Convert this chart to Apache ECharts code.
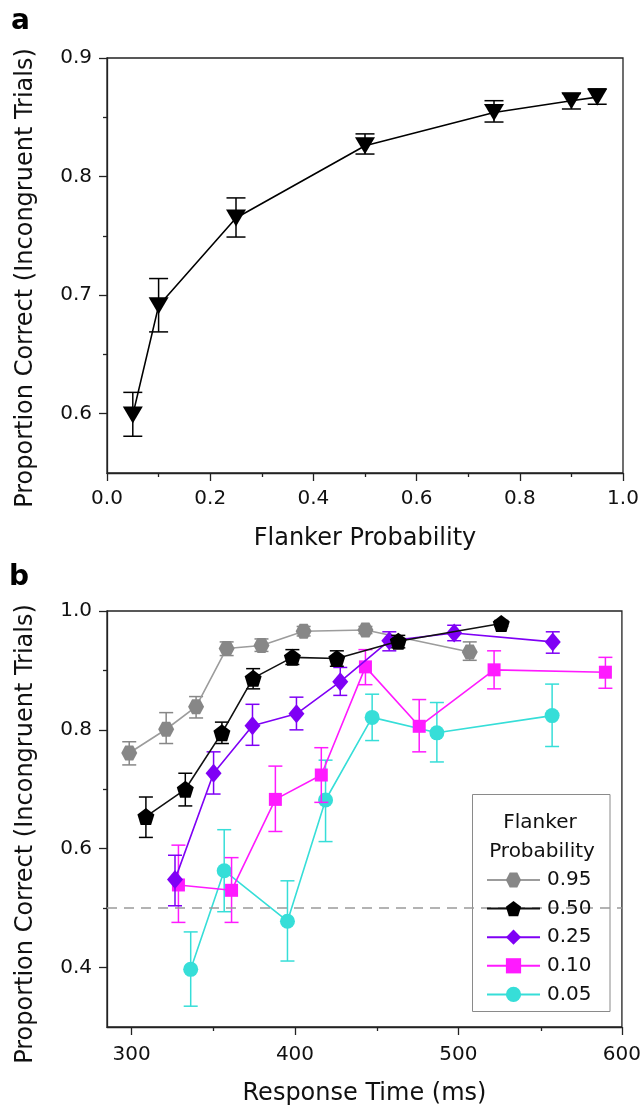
<!DOCTYPE html>
<html>
<head>
<meta charset="utf-8">
<script src="https://cdn.jsdelivr.net/npm/echarts@6/dist/echarts.min.js"></script>
<style>
  html, body { margin: 0; padding: 0; background: #fff; }
  #chart { width: 644px; height: 1108px; }
</style>
</head>
<body>
<div id="chart"></div>
<script>
// ---------- Panel a: accuracy vs. flanker probability ----------
const flankerProb = [0.05, 0.10, 0.25, 0.50, 0.75, 0.90, 0.95];
const accA        = [0.599, 0.691, 0.765, 0.826, 0.854, 0.864, 0.867];
const accALo      = [0.581, 0.669, 0.749, 0.819, 0.846, 0.857, 0.861];
const accAHi      = [0.618, 0.714, 0.782, 0.836, 0.864, 0.870, 0.874];
const yTicksA     = [0.6, 0.7, 0.8, 0.9];
const yMinorA     = [0.65, 0.75, 0.85];

// ---------- Panel b: accuracy vs. response time, per flanker probability ----------
const rt95  = [298.6, 321.2, 339.5, 358.2, 379.5, 405.3, 443.1, 506.9];
const acc95 = [0.761, 0.801, 0.839, 0.937, 0.942, 0.966, 0.968, 0.931];
const lo95  = [0.741, 0.777, 0.820, 0.925, 0.932, 0.958, 0.962, 0.917];
const hi95  = [0.780, 0.829, 0.856, 0.948, 0.953, 0.974, 0.974, 0.948];

const rt50  = [308.8, 332.9, 355.3, 374.4, 398.4, 425.6, 463.2, 526.2];
const acc50 = [0.654, 0.700, 0.795, 0.887, 0.922, 0.920, 0.949, 0.979];
const lo50  = [0.619, 0.672, 0.777, 0.869, 0.910, 0.907, 0.938, 0.974];
const hi50  = [0.687, 0.727, 0.813, 0.903, 0.935, 0.933, 0.959, 0.984];

const rt25  = [326.6, 350.2, 374.0, 400.9, 427.7, 457.7, 497.4, 557.7];
const acc25 = [0.548, 0.727, 0.807, 0.827, 0.881, 0.950, 0.963, 0.948];
const lo25  = [0.504, 0.692, 0.774, 0.800, 0.858, 0.933, 0.950, 0.929];
const hi25  = [0.589, 0.763, 0.843, 0.855, 0.905, 0.965, 0.976, 0.965];

const rt10  = [328.7, 361.2, 388.0, 416.1, 443.1, 476.0, 521.8, 589.9];
const acc10 = [0.539, 0.530, 0.683, 0.724, 0.906, 0.806, 0.901, 0.897];
const lo10  = [0.476, 0.476, 0.629, 0.678, 0.876, 0.763, 0.869, 0.870];
const hi10  = [0.606, 0.585, 0.739, 0.770, 0.935, 0.851, 0.933, 0.922];

const rt05  = [336.2, 356.7, 395.4, 418.7, 447.2, 486.8, 557.3];
const acc05 = [0.397, 0.563, 0.478, 0.682, 0.821, 0.795, 0.824];
const lo05  = [0.335, 0.494, 0.411, 0.612, 0.782, 0.746, 0.772];
const hi05  = [0.460, 0.632, 0.546, 0.749, 0.860, 0.846, 0.877];

const xTicksB = [300, 400, 500, 600];
const xMinorB = [350, 450, 550];
const yTicksB = [0.4, 0.6, 0.8, 1.0];
const yMinorB = [0.5, 0.7, 0.9];
const chanceLevel = 0.5;

// ---------- styling ----------
const FONT = 'DejaVu Sans';
const AXIS_COLOR = '#222';
const Y_TITLE = 'Proportion Correct (Incongruent Trials)';

const PENTAGON = 'path://M50,0 L97.55,34.55 L79.39,90.45 L20.61,90.45 L2.45,34.55 Z';
const HEXAGON  = 'path://M25,0 L75,0 L100,43.3 L75,86.6 L25,86.6 L0,43.3 Z';

// drawing order: first entries are painted underneath
const groups = [
  { name: '0.95', rt: rt95, acc: acc95, lo: lo95, hi: hi95, color: '#878787', line: '#9c9c9c', symbol: HEXAGON,  size: [16, 15], z: 2 },
  { name: '0.05', rt: rt05, acc: acc05, lo: lo05, hi: hi05, color: '#36ded8', line: '#36ded8', symbol: 'circle', size: 15, z: 3 },
  { name: '0.10', rt: rt10, acc: acc10, lo: lo10, hi: hi10, color: '#ff1aff', line: '#ff1aff', symbol: 'rect',   size: 13, z: 4 },
  { name: '0.25', rt: rt25, acc: acc25, lo: lo25, hi: hi25, color: '#7f00f5', line: '#7f00f5', symbol: 'diamond', size: [16, 19], z: 5 },
  { name: '0.50', rt: rt50, acc: acc50, lo: lo50, hi: hi50, color: '#000000', line: '#111111', symbol: PENTAGON, size: 17, z: 6 }
];
const legendOrder = ['0.95', '0.50', '0.25', '0.10', '0.05'];

const gridA = { left: 107, top: 58, width: 516, height: 415 };
const gridB = { left: 107, top: 611, width: 516, height: 416 };

function errorBars(axisIdx, xs, lo, hi, color, cap, z) {
  return {
    type: 'custom',
    xAxisIndex: axisIdx,
    yAxisIndex: axisIdx,
    silent: true,
    z: z,
    data: xs.map((x, i) => [x, lo[i], hi[i]]),
    encode: { x: 0, y: [1, 2] },
    renderItem(params, api) {
      const x = api.value(0);
      const a = api.coord([x, api.value(1)]);
      const b = api.coord([x, api.value(2)]);
      const h = cap / 2;
      const style = { stroke: color, lineWidth: 1.5 };
      return {
        type: 'group',
        children: [
          { type: 'line', shape: { x1: a[0], y1: a[1], x2: b[0], y2: b[1] }, style },
          { type: 'line', shape: { x1: a[0] - h, y1: a[1], x2: a[0] + h, y2: a[1] }, style },
          { type: 'line', shape: { x1: b[0] - h, y1: b[1], x2: b[0] + h, y2: b[1] }, style }
        ]
      };
    }
  };
}

const tickLine = { color: AXIS_COLOR, width: 1.3 };
const labelStyle = { fontFamily: FONT, fontSize: 20, color: '#111' };
const nameStyle = { fontFamily: FONT, fontSize: 24, color: '#111' };

function mainAxisBase(gridIndex, min, max) {
  return {
    type: 'value', gridIndex, min, max,
    axisLine: { show: true, onZero: false, lineStyle: { color: AXIS_COLOR, width: 1.3 } },
    splitLine: { show: false },
    minorSplitLine: { show: false }
  };
}

function minorAxis(gridIndex, min, max, values) {
  return {
    type: 'value', gridIndex, min, max,
    axisLine: { show: false, onZero: false },
    axisLabel: { show: false },
    splitLine: { show: false },
    axisTick: { show: values.length > 0, length: 4, lineStyle: tickLine, customValues: values }
  };
}

const xAxes = [
  Object.assign(mainAxisBase(0, 0, 1), {
    interval: 0.2,
    axisTick: { show: true, length: 8, lineStyle: tickLine },
    minorTick: { show: true, splitNumber: 2, length: 4, lineStyle: tickLine },
    axisLabel: Object.assign({ margin: 16, formatter: v => v.toFixed(1) }, labelStyle),
    name: 'Flanker Probability', nameLocation: 'middle', nameGap: 54, nameTextStyle: nameStyle
  }),
  Object.assign(mainAxisBase(1, 285, 600), {
    axisTick: { show: true, length: 8, lineStyle: tickLine, customValues: xTicksB },
    axisLabel: Object.assign({ margin: 18, customValues: xTicksB, formatter: v => String(Math.round(v)) }, labelStyle),
    name: 'Response Time (ms)', nameLocation: 'middle', nameGap: 55, nameTextStyle: nameStyle
  }),
  minorAxis(2, 0, 1, []),
  minorAxis(3, 285, 600, xMinorB)
];

const yAxes = [
  Object.assign(mainAxisBase(0, 0.55, 0.9), {
    axisTick: { show: true, length: 8, lineStyle: tickLine, customValues: yTicksA },
    axisLabel: Object.assign({ margin: 15, customValues: yTicksA, formatter: v => v.toFixed(1) }, labelStyle)
  }),
  Object.assign(mainAxisBase(1, 0.3, 1.0), {
    axisTick: { show: true, length: 8, lineStyle: tickLine, customValues: yTicksB },
    axisLabel: Object.assign({ margin: 15, customValues: yTicksB, formatter: v => v.toFixed(1) }, labelStyle)
  }),
  minorAxis(2, 0.55, 0.9, yMinorA),
  minorAxis(3, 0.3, 1.0, yMinorB)
];

const series = [];

// panel a
series.push(errorBars(0, flankerProb, accALo, accAHi, '#000', 19, 2));
series.push({
  type: 'line', name: 'panelA', xAxisIndex: 0, yAxisIndex: 0,
  data: flankerProb.map((p, i) => [p, accA[i]]),
  symbol: 'triangle', symbolRotate: 180, symbolSize: [20, 17],
  lineStyle: { color: '#000', width: 1.6 },
  itemStyle: { color: '#000' },
  z: 3
});

// panel b
groups.forEach((g, k) => {
  series.push(errorBars(1, g.rt, g.lo, g.hi, g.color, 14, g.z));
  const s = {
    type: 'line', name: g.name, xAxisIndex: 1, yAxisIndex: 1,
    data: g.rt.map((x, i) => [x, g.acc[i]]),
    symbol: g.symbol, symbolSize: g.size,
    lineStyle: { color: g.line, width: 1.6 },
    itemStyle: { color: g.color },
    z: g.z
  };
  if (k === 0) {
    s.markLine = {
      silent: true, symbol: ['none', 'none'], label: { show: false },
      lineStyle: { color: '#9a9a9a', type: [10, 7], width: 1.5 },
      data: [{ yAxis: chanceLevel }]
    };
  }
  series.push(s);
});

const option = {
  animation: false,
  backgroundColor: '#fff',
  textStyle: { fontFamily: FONT },
  grid: [
    Object.assign({ show: true, borderColor: AXIS_COLOR, borderWidth: 1.3, backgroundColor: 'transparent' }, gridA),
    Object.assign({ show: true, borderColor: AXIS_COLOR, borderWidth: 1.3, backgroundColor: 'transparent' }, gridB),
    Object.assign({ show: false }, gridA),
    Object.assign({ show: false }, gridB)
  ],
  xAxis: xAxes,
  yAxis: yAxes,
  legend: {
    data: legendOrder,
    orient: 'vertical',
    left: 486, top: 870,
    padding: 0,
    itemWidth: 53, itemHeight: 19, itemGap: 8.6,
    selectedMode: false,
    z: 6,
    textStyle: { fontFamily: FONT, fontSize: 20, color: '#111', lineHeight: 20, padding: [0, 0, 0, 2] }
  },
  graphic: [
    { type: 'text', x: 11, y: 22, z: 10, style: { text: 'a', font: 'bold 28px "DejaVu Sans"', fill: '#000', textAlign: 'left', textVerticalAlign: 'middle' } },
    { type: 'text', x: 9, y: 578, z: 10, style: { text: 'b', font: 'bold 28px "DejaVu Sans"', fill: '#000', textAlign: 'left', textVerticalAlign: 'middle' } },
    { type: 'text', x: 26, y: 278, rotation: Math.PI / 2, z: 10, style: { text: Y_TITLE, font: '24px "DejaVu Sans"', fill: '#111', textAlign: 'center', textVerticalAlign: 'middle' } },
    { type: 'text', x: 26, y: 834, rotation: Math.PI / 2, z: 10, style: { text: Y_TITLE, font: '24px "DejaVu Sans"', fill: '#111', textAlign: 'center', textVerticalAlign: 'middle' } },
    { type: 'rect', z: 5, shape: { x: 472.5, y: 794.5, width: 137.5, height: 217 }, style: { fill: '#fff', stroke: '#8a8a8a', lineWidth: 1 } },
    { type: 'text', x: 540, y: 823, z: 10, style: { text: 'Flanker', font: '20px "DejaVu Sans"', fill: '#111', textAlign: 'center', textVerticalAlign: 'middle' } },
    { type: 'text', x: 542, y: 852, z: 10, style: { text: 'Probability', font: '20px "DejaVu Sans"', fill: '#111', textAlign: 'center', textVerticalAlign: 'middle' } }
  ],
  series: series
};

const chart = echarts.init(document.getElementById('chart'), null, { renderer: 'canvas' });
chart.setOption(option);
</script>
</body>
</html>
